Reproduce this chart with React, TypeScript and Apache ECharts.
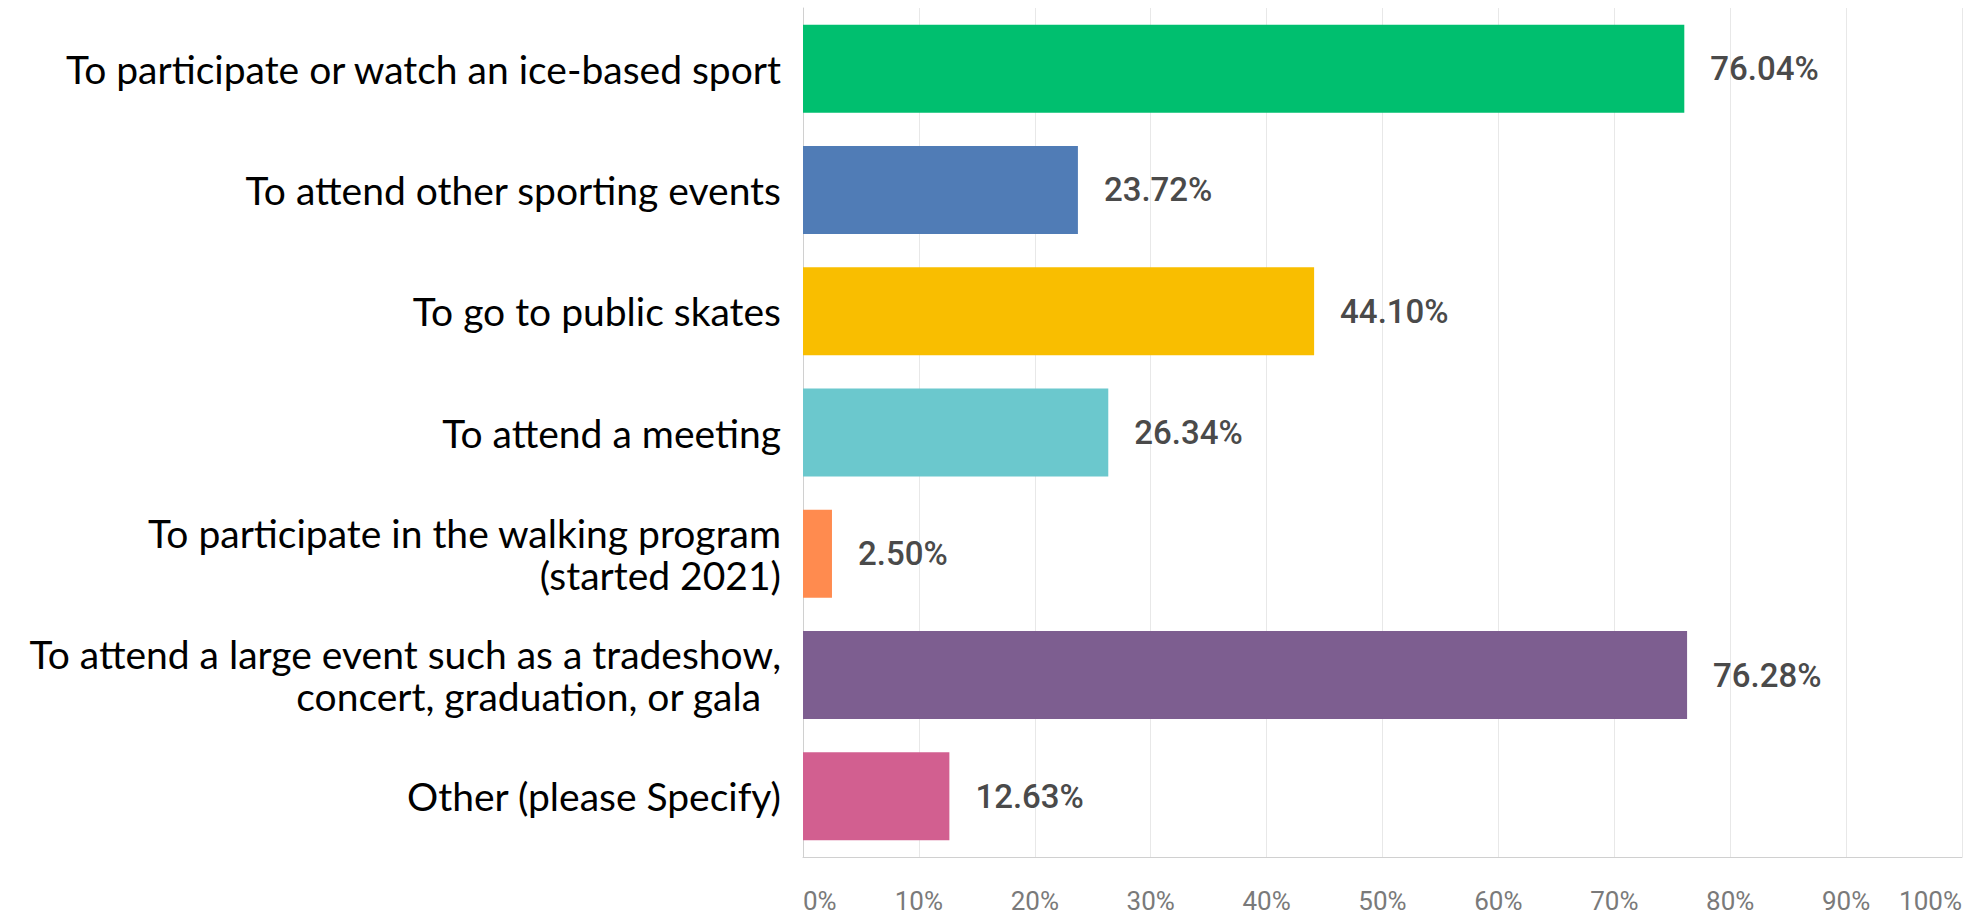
import React, { useEffect, useRef } from "react";
import * as echarts from "echarts";

const categories = [
  "To participate or watch an ice-based sport",
  "To attend other sporting events",
  "To go to public skates",
  "To attend a meeting",
  "To participate in the walking program\n(started 2021)",
  "To attend a large event such as a tradeshow,\nconcert, graduation, or gala\u00a0\u00a0",
  "Other (please Specify)",
];
const values = [76.04, 23.72, 44.1, 26.34, 2.5, 76.28, 12.63];
const colors = ["#00BF6F", "#507CB6", "#F9BE00", "#6BC8CD", "#FF8B4F", "#7D5E90", "#D25F90"];

export default function App() {
  const ref = useRef<HTMLDivElement>(null);
  useEffect(() => {
    const chart = echarts.init(ref.current!, null, { renderer: "svg" });
    chart.setOption({
      animation: false,
      backgroundColor: "#ffffff",
      grid: { left: 803, right: 11, top: 8, bottom: 58, containLabel: false },
      xAxis: {
        type: "value",
        min: 0,
        max: 100,
        interval: 10,
        axisLine: { show: true, lineStyle: { color: "#d0d0d0", width: 1 } },
        axisTick: { show: false },
        splitLine: { show: true, lineStyle: { color: "#e8e8e8", width: 1 } },
        axisLabel: {
          formatter: "{value}%",
          fontFamily: "Roboto",
          fontSize: 26,
          lineHeight: 26,
          color: "#7a7a7a",
          margin: 31,
          alignMinLabel: "left",
          alignMaxLabel: "right",
        },
      },
      yAxis: {
        type: "category",
        inverse: true,
        data: categories,
        axisLine: { show: true, lineStyle: { color: "#d0d0d0", width: 1 } },
        axisTick: { show: false },
        axisLabel: {
          fontFamily: "Lato",
          fontSize: 39,
          color: "#000000",
          margin: 22,
          lineHeight: 42,
          align: "right",
        },
      },
      series: [
        {
          type: "bar",
          barWidth: 88,
          data: values.map((v, i) => ({ value: v, itemStyle: { color: colors[i] } })),
          label: {
            show: true,
            position: "right",
            distance: 26,
            formatter: (p: any) => p.value.toFixed(2) + "%",
            fontFamily: "Roboto",
            fontWeight: 500,
            fontSize: 33,
            color: "#4a4a4a",
          },
        },
      ],
    });
    return () => chart.dispose();
  }, []);
  return (
    <div
      ref={ref}
      style={{ position: "fixed", left: 0, top: 0, width: 1973, height: 915 }}
    />
  );
}
